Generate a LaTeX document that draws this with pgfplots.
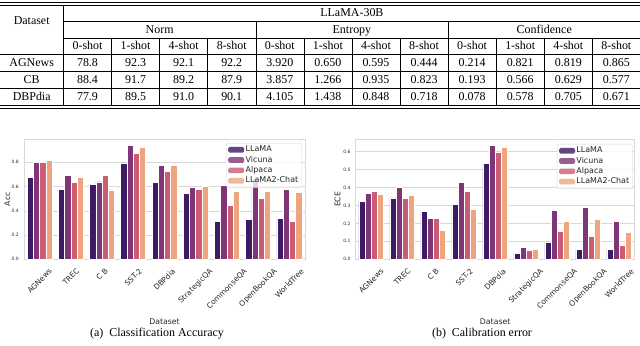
\documentclass[border=0pt]{standalone}
\usepackage{fontspec}
\setmainfont{Liberation Serif}
\newfontfamily\sns{DejaVu Sans}
\usepackage{array}
\usepackage{multirow}
\usepackage{graphicx}
\usepackage{pgfplots}
\usepackage{pgfplotstable}
\pgfplotsset{compat=1.18}

% seaborn magma palette, desaturated as in barplot
\definecolor{cA}{HTML}{3C1B64}
\definecolor{cB}{HTML}{803577}
\definecolor{cC}{HTML}{CB5C73}
\definecolor{cD}{HTML}{ECA57F}
\definecolor{spine}{HTML}{D9D9D9}
\definecolor{txt}{HTML}{262626}

\newcolumntype{C}[1]{>{\centering\arraybackslash}p{#1}}

\pgfplotstableread{
x llama vicuna alpaca chat
0 0.673 0.800 0.800 0.819
1 0.580 0.693 0.635 0.673
2 0.621 0.638 0.693 0.572
3 0.795 0.937 0.877 0.926
4 0.635 0.772 0.726 0.772
5 0.544 0.591 0.577 0.600
6 0.316 0.610 0.448 0.562
7 0.330 0.668 0.500 0.560
8 0.338 0.580 0.316 0.550
}\accdata

\pgfplotstableread{
x llama vicuna alpaca chat
0 0.325 0.368 0.379 0.362
1 0.342 0.400 0.340 0.357
2 0.266 0.230 0.230 0.163
3 0.305 0.429 0.377 0.277
4 0.533 0.633 0.594 0.624
5 0.035 0.067 0.052 0.056
6 0.093 0.273 0.158 0.210
7 0.056 0.290 0.126 0.223
8 0.056 0.212 0.080 0.152
}\ecedata

\pgfplotsset{
  snsbar/.style={
    scale only axis, anchor=south west,
    height=120bp,
    ybar, bar width=0.2,
    enlargelimits=false,
    xmin=-0.5, xmax=8.5, ymin=0,
    xtick={0,...,8},
    xticklabels={\rotatebox{45}{AGNews},\rotatebox{45}{TREC},\rotatebox{45}{C B},
      \rotatebox{45}{SST-2},\rotatebox{45}{DBPdia},\rotatebox{45}{StrategicQA},
      \rotatebox{45}{CommonseQA},\rotatebox{45}{OpenBookQA},\rotatebox{45}{WorldTree}},
    xticklabel style={font=\sns\fontsize{7.5}{9}\selectfont, text=txt,
      anchor=north, inner sep=0pt, yshift=-8.5bp},
    yticklabel style={font=\sns\fontsize{4.5}{5}\selectfont, text=txt,
      inner sep=0pt, xshift=-5bp,
      /pgf/number format/.cd, fixed, fixed zerofill, precision=1,
      assume math mode=true},
    major tick length=0pt,
    axis line style={spine, line width=0.6bp},
    ymajorgrids, major grid style={spine, line width=0.6bp},
    label style={font=\sns\fontsize{7.8}{9}\selectfont, text=txt, inner sep=0pt},
    xlabel={Dataset},
    xlabel style={at={(axis description cs:0.5,-0.52)}, anchor=center},
    legend cell align=left,
    legend style={font=\sns\fontsize{8}{9}\selectfont, text=txt,
      anchor=north east, fill=white, fill opacity=0.8, text opacity=1,
      draw=spine, rounded corners=1.5bp, inner xsep=2bp, inner ysep=1.5bp,
      nodes={inner sep=1.4bp}},
    legend image code/.code={\fill[#1,draw=none] (0bp,-2.8bp) rectangle (16bp,2.8bp);},
  },
  snsbar/.append style={every axis plot/.append style={draw=white, line width=0.6bp}},
}

\begin{document}
\begin{tikzpicture}
\path[use as bounding box] (0bp,0bp) rectangle (640bp,-346bp);

\node[anchor=north west, inner sep=0pt] at (0bp,-1.5bp) {%
  \fontsize{12}{14.4}\selectfont
  \setlength\tabcolsep{0pt}%
  \setlength\arrayrulewidth{0.5bp}%
  \renewcommand\arraystretch{1.15}%
  \begin{tabular}{C{63bp}|*{11}{C{47.58bp}|}C{47.58bp}}
  \noalign{\hrule height 1.2bp}\noalign{\vskip 1.6bp}\hline
  \multirow{2}{*}{Dataset} & \multicolumn{12}{c}{LLaMA-30B}\\ \cline{2-13}
   & \multicolumn{4}{c|}{Norm} & \multicolumn{4}{c|}{Entropy} & \multicolumn{4}{c}{Confidence}\\ \cline{2-13}
   & 0-shot & 1-shot & 4-shot & 8-shot & 0-shot & 1-shot & 4-shot & 8-shot & 0-shot & 1-shot & 4-shot & 8-shot\\ \hline
  AGNews & 78.8 & 92.3 & 92.1 & 92.2 & 3.920 & 0.650 & 0.595 & 0.444 & 0.214 & 0.821 & 0.819 & 0.865\\ \hline
  CB & 88.4 & 91.7 & 89.2 & 87.9 & 3.857 & 1.266 & 0.935 & 0.823 & 0.193 & 0.566 & 0.629 & 0.577\\ \hline
  DBPdia & 77.9 & 89.5 & 91.0 & 90.1 & 4.105 & 1.438 & 0.848 & 0.718 & 0.078 & 0.578 & 0.705 & 0.671\\ \hline
  \noalign{\vskip 1.6bp}\noalign{\hrule height 1.2bp}
  \end{tabular}};

\begin{axis}[snsbar, at={(24bp,-259.3bp)}, width=281bp,
  ymax=0.99, ytick={0,0.2,0.4,0.6,0.8},
  ylabel={Acc}, ylabel style={at={(axis description cs:-0.059,0.5)}, anchor=center},
  legend style={at={(0.989,0.969)}}]
\addplot[fill=cA, bar shift=-0.3] table[x=x, y=llama] {\accdata};
\addplot[fill=cB, bar shift=-0.1] table[x=x, y=vicuna] {\accdata};
\addplot[fill=cC, bar shift=0.1] table[x=x, y=alpaca] {\accdata};
\addplot[fill=cD, bar shift=0.3] table[x=x, y=chat] {\accdata};
\legend{LLaMA,Vicuna,Alpaca,LLaMA2-Chat}
\end{axis}

\begin{axis}[snsbar, at={(355.7bp,-259.3bp)}, width=279bp,
  ymax=0.669, ytick={0,0.1,0.2,0.3,0.4,0.5,0.6},
  ylabel={ECE}, ylabel style={at={(axis description cs:-0.065,0.5)}, anchor=center},
  legend style={at={(0.993,0.961)}}]
\addplot[fill=cA, bar shift=-0.3] table[x=x, y=llama] {\ecedata};
\addplot[fill=cB, bar shift=-0.1] table[x=x, y=vicuna] {\ecedata};
\addplot[fill=cC, bar shift=0.1] table[x=x, y=alpaca] {\ecedata};
\addplot[fill=cD, bar shift=0.3] table[x=x, y=chat] {\ecedata};
\legend{LLaMA,Vicuna,Alpaca,LLaMA2-Chat}
\end{axis}

\node[font=\fontsize{12}{14}\selectfont, inner sep=0pt] at (157bp,-334bp) {(a)\enspace Classification Accuracy};
\node[font=\fontsize{12}{14}\selectfont, inner sep=0pt] at (482bp,-334bp) {(b)\enspace Calibration error};
\end{tikzpicture}
\end{document}
